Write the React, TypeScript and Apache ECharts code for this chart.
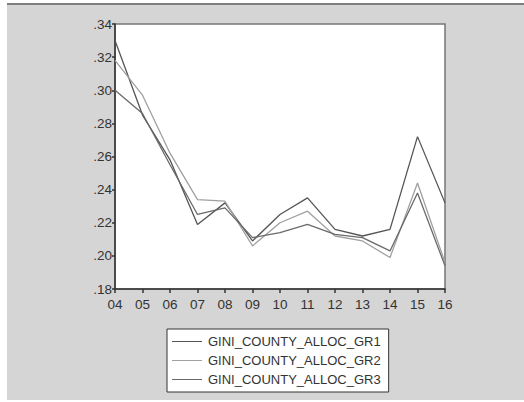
import React, { useEffect, useRef } from "react";
import * as echarts from "echarts";

const years = ["04", "05", "06", "07", "08", "09", "10", "11", "12", "13", "14", "15", "16"];
const gr1 = [0.330, 0.285, 0.258, 0.219, 0.232, 0.209, 0.225, 0.235, 0.216, 0.212, 0.216, 0.272, 0.232];
const gr2 = [0.318, 0.297, 0.262, 0.234, 0.233, 0.206, 0.220, 0.227, 0.212, 0.209, 0.199, 0.244, 0.196];
const gr3 = [0.300, 0.286, 0.255, 0.225, 0.229, 0.211, 0.214, 0.219, 0.213, 0.211, 0.203, 0.238, 0.194];
const names = ["GINI_COUNTY_ALLOC_GR1", "GINI_COUNTY_ALLOC_GR2", "GINI_COUNTY_ALLOC_GR3"];
const colors = ["#555555", "#a0a0a0", "#6a6a6a"];

export default function App() {
  const ref = useRef<HTMLDivElement>(null);
  useEffect(() => {
    if (!ref.current) return;
    const chart = echarts.init(ref.current, null, { renderer: "svg" });
    const font = "'Liberation Sans', Arial, sans-serif";
    const data = [gr1, gr2, gr3];
    chart.setOption({
      animation: false,
      backgroundColor: "#ffffff",
      textStyle: { fontFamily: font },
      graphic: [
        { type: "rect", z: -10, shape: { x: 7, y: 5, width: 517, height: 395 }, style: { fill: "#d5d5d5" } },
        { type: "line", z: -9, shape: { x1: 7, y1: 4, x2: 524, y2: 4 }, style: { stroke: "#555", lineWidth: 1.5 } },
      ],
      grid: {
        left: 115, top: 24, width: 330, height: 265,
        show: true, backgroundColor: "#ffffff", borderColor: "#777", borderWidth: 1.5,
      },
      legend: {
        orient: "vertical",
        left: 167, top: 329,
        width: 227,
        backgroundColor: "#ffffff",
        borderColor: "#333",
        borderWidth: 1,
        padding: [6, 8, 6, 5],
        itemGap: 6,
        itemWidth: 30,
        itemHeight: 1,
        icon: "rect",
        textStyle: { fontSize: 13, color: "#333", fontFamily: font, padding: [0, 0, 0, 1] },
        data: names,
      },
      xAxis: {
        type: "category",
        data: years,
        boundaryGap: false,
        axisLine: { lineStyle: { color: "#333", width: 1.5 } },
        axisTick: { length: 4, lineStyle: { color: "#333", width: 1.5 } },
        axisLabel: { color: "#333", fontSize: 13.5, margin: 8, fontFamily: font },
        splitLine: { show: false },
      },
      yAxis: {
        type: "value",
        min: 0.18, max: 0.34, interval: 0.02,
        axisLine: { show: true, lineStyle: { color: "#333", width: 1.5 } },
        axisTick: { show: true, length: 3, lineStyle: { color: "#333", width: 1.5 } },
        axisLabel: {
          color: "#333", fontSize: 13.5, margin: 3, fontFamily: font,
          formatter: (v: number) => v.toFixed(2).replace(/^0/, ""),
        },
        splitLine: { show: false },
      },
      series: data.map((d, i) => ({
        name: names[i],
        type: "line",
        data: d,
        showSymbol: false,
        symbol: "none",
        lineStyle: { color: colors[i], width: 1.3 },
        itemStyle: { color: colors[i] },
      })),
    });
    return () => chart.dispose();
  }, []);
  return <div ref={ref} style={{ width: 524, height: 402, position: "absolute", left: 0, top: 0 }} />;
}
